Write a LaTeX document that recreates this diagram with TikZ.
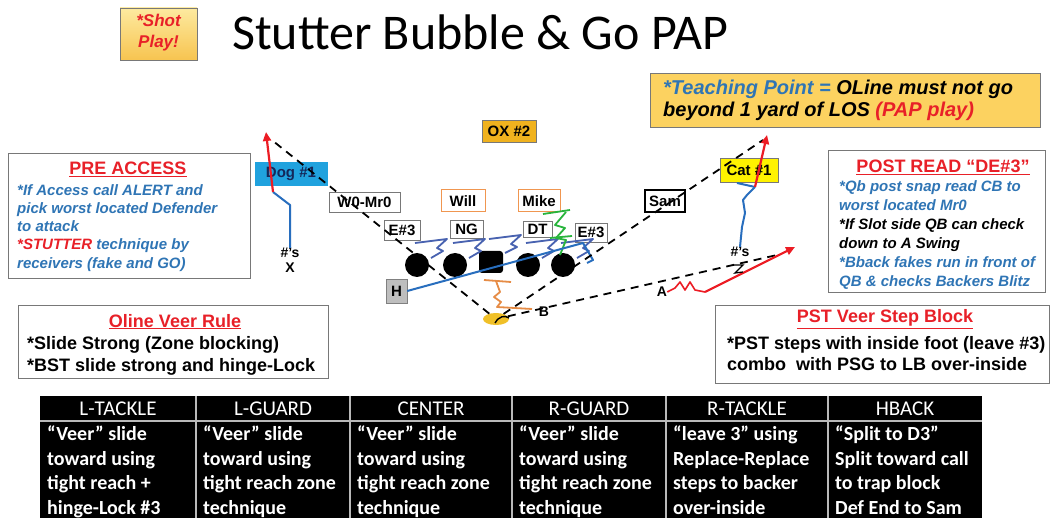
\documentclass[tikz,border=0pt]{standalone}
\usepackage{fontspec}
\setmainfont{Liberation Sans}
\newfontfamily\calfont{Carlito}
\usetikzlibrary{arrows.meta,shapes.geometric}
\definecolor{txtblue}{RGB}{47,117,181}
\definecolor{txtred}{RGB}{232,32,40}
\definecolor{tpgold}{RGB}{252,210,96}
\definecolor{shottop}{RGB}{253,234,160}
\definecolor{shotbot}{RGB}{247,196,80}
\definecolor{oxgold}{RGB}{240,178,30}
\definecolor{dogblue}{RGB}{32,162,222}
\definecolor{dognavy}{RGB}{20,40,90}
\definecolor{boxgray}{RGB}{120,120,120}
\definecolor{lbor}{RGB}{240,150,80}
\definecolor{routeblue}{RGB}{40,110,190}
\definecolor{blockblue}{RGB}{72,98,176}
\definecolor{mikegreen}{RGB}{40,180,60}
\definecolor{bback}{RGB}{230,140,70}
\definecolor{routered}{RGB}{236,28,36}
\definecolor{qbgold}{RGB}{240,192,40}
\definecolor{hgray}{RGB}{190,190,190}
\tikzset{
  notebox/.style={draw=boxgray,line width=0.8pt,fill=white,inner sep=0pt,anchor=north west},
  notetitle/.style={font=\fontsize{18}{20}\selectfont\bfseries,text=txtred,inner sep=0pt,anchor=base},
  notetext/.style={font=\fontsize{15}{18.3}\selectfont\bfseries\itshape,align=left,inner sep=0pt,anchor=north west},
  veertext/.style={font=\fontsize{18}{22.5}\selectfont\bfseries,align=left,inner sep=0pt,anchor=north west},
  defbox/.style={draw=boxgray,fill=white,font=\fontsize{15}{16}\selectfont\bfseries,inner sep=0pt},
  lbbox/.style={defbox,draw=lbor,line width=1pt},
  olman/.style={circle,fill=black,minimum size=24pt,inner sep=0pt},
  fieldlbl/.style={font=\fontsize{14}{15}\selectfont\bfseries,inner sep=0pt},
  readline/.style={black,dash pattern=on 8pt off 6pt,line width=1.8pt},
  blockline/.style={blockblue,line width=1.8pt,line join=round},
  xroute/.style={routeblue,line width=2pt,line join=round},
  goroute/.style={routered,line width=2.2pt,-{Triangle[length=9pt,width=8pt]}},
  tblhead/.style={font=\calfont\fontsize{21}{24}\selectfont,text=white,inner sep=0pt,anchor=base},
  tblcell/.style={font=\calfont\fontsize{20}{24.7}\selectfont\bfseries,text=white,align=left,anchor=north west,inner sep=0pt},
}
\begin{document}
\begin{tikzpicture}[x=1pt,y=-1pt]
\useasboundingbox (0,0) rectangle (1051,518);
\fill[white] (0,0) rectangle (1051,518);

\node[draw=boxgray,top color=shottop,bottom color=shotbot,minimum width=77pt,minimum height=52pt,inner sep=0pt] (shot) at (158.5,34) {};
\node[font=\fontsize{17}{21}\selectfont\bfseries\itshape,text=txtred,align=center] (shottxt) at (158.5,33) {*Shot\\Play!};
\node[font=\calfont\fontsize{50}{60}\selectfont,inner sep=0pt,anchor=base west] (title) at (232,50) {Stutter Bubble \& Go PAP};

\node[draw=boxgray,fill=tpgold,minimum width=390pt,minimum height=54pt,inner sep=0pt,anchor=north west] (teach) at (650,73) {};
\node[font=\fontsize{20}{22}\selectfont\bfseries\itshape,align=left,inner sep=0pt,anchor=north west] (teachtxt) at (663,80) {\textcolor{txtblue}{*Teaching Point =} OLine must not go\\beyond 1 yard of LOS \textcolor{txtred}{(PAP play)}};

\node[notebox,minimum width=242pt,minimum height=125pt] (prebox) at (8,153) {};
\node[notetitle] (pretitle) at (128,175) {\underline{PRE ACCESS}};
\node[notetext,text=txtblue] (pretxt) at (17,184) {*If Access call ALERT and\\pick worst located Defender\\to attack\\\textcolor{txtred}{*STUTTER} technique by\\receivers (fake and GO)};

\node[notebox,minimum width=217pt,minimum height=142pt] (postbox) at (828,150) {};
\node[notetitle] (posttitle) at (943,173) {\underline{POST READ “DE\#3”}};
\node[notetext,text=txtblue,font=\fontsize{15}{19}\selectfont\bfseries\itshape] (posttxt) at (839,180) {*Qb post snap read CB to\\worst located Mr0\\\textcolor{black}{*If Slot side QB can check}\\\textcolor{black}{down to A Swing}\\*Bback fakes run in front of\\QB \& checks Backers Blitz};

\node[notebox,minimum width=310pt,minimum height=73pt] (olbox) at (18,305) {};
\node[notetitle] (oltitle) at (175,327) {\underline{Oline Veer Rule}};
\node[veertext] (oltxt) at (27,336) {*Slide Strong (Zone blocking)\\*BST slide strong and hinge-Lock};

\node[notebox,minimum width=334pt,minimum height=78pt] (pstbox) at (715,305) {};
\node[notetitle] (psttitle) at (885,323) {\underline{PST Veer Step Block}};
\node[veertext,font=\fontsize{18}{21.5}\selectfont\bfseries] (psttxt) at (727,336) {*PST steps with inside foot (leave \#3)\\combo~ with PSG to LB over-inside};

\node[defbox,fill=oxgold,minimum width=54pt,minimum height=22pt] (ox) at (509,131) {OX \#2};
\node[defbox,fill=dogblue,text=dognavy,draw=dogblue,minimum width=72pt,minimum height=23pt] (dog) at (291,173.5) {Dog \#1};
\node[defbox,minimum width=71pt,minimum height=20pt] (wmr) at (364.5,202) {W0-Mr0};
\node[lbbox,minimum width=44pt,minimum height=22pt] (will) at (463,201) {Will};
\node[lbbox,minimum width=42pt,minimum height=22pt] (mike) at (539,201) {Mike};
\node[defbox,minimum width=36pt,minimum height=20pt] (eleft) at (402,230) {E\#3};
\node[defbox,minimum width=33pt,minimum height=18pt] (ng) at (466.5,229) {NG};
\node[defbox,minimum width=29pt,minimum height=16pt] (dt) at (537.5,229.5) {DT};
\node[defbox,minimum width=32pt,minimum height=19pt] (eright) at (591,232.5) {E\#3};
\node[defbox,draw=black,line width=1.5pt,minimum width=40pt,minimum height=22pt] (sam) at (665,201) {Sam};
\node[defbox,fill=yellow,minimum width=58pt,minimum height=24pt] (cat) at (749,170) {Cat \#1};

\node[olman] (lt) at (417,265) {};
\node[olman] (lg) at (455,265) {};
\node[fill=black,rounded corners=3pt,minimum width=24pt,minimum height=22pt,inner sep=0pt] (ctr) at (491,262) {};
\node[olman] (rg) at (528,265) {};
\node[olman] (rt) at (563,265) {};
\node[defbox,fill=hgray,draw=gray,minimum width=21pt,minimum height=24pt] (hback) at (396.5,291) {H};
\node[ellipse,fill=qbgold,minimum width=26pt,minimum height=12pt,inner sep=0pt] (qb) at (496,319) {};

\node[fieldlbl] (xhash) at (290,253) {\#'s};
\node[fieldlbl] (xlbl) at (290,268) {X};
\node[fieldlbl] (chash) at (740,252) {\#'s};
\node[fieldlbl] (alb) at (662,292) {A};
\node[fieldlbl] (blb) at (544,312) {B};

\coordinate (xbend) at (290,205);
\coordinate (xbreak) at (273,192);
\coordinate (xtip) at (266,132);
\coordinate (dogread) at (273,141);
\coordinate (catread) at (763,140);
\coordinate (aend) at (777,255);
\coordinate (catbreak) at (755,187);
\coordinate (cattip) at (767,135);
\coordinate (swingbreak) at (705,292);
\coordinate (swingtip) at (795,247);

\draw[blockline] (415,243) -- (447,239) -- (437,248) -- (443,251) -- (431,258);
\draw[blockline] (453,243) -- (485,239) -- (475,248) -- (481,251) -- (469,258);
\draw[blockline] (489,239) -- (521,235) -- (511,244) -- (517,247) -- (505,253);
\draw[blockline] (526,243) -- (558,239) -- (548,248) -- (554,251) -- (542,258);
\draw[blockline] (561,243) -- (593,239) -- (583,248) -- (589,251) -- (577,258);
\draw[mikegreen,line width=1.8pt,line join=round] (543,214) -- (570,210);
\draw[mikegreen,line width=1.8pt,line join=round] (566,212) -- (555,225) -- (565,228) -- (556,238) -- (566,240) -- (560,255);
\draw[mikegreen,line width=1.8pt] (550,238) -- (572,236);
\draw[bback,line width=1.8pt] (484,280) -- (511,282);
\draw[bback,line width=1.8pt,line join=round] (496,281) -- (500,292) -- (494,297) -- (501,302) -- (497,307) -- (532,309);
\draw[xroute] (hback.east) -- (583,243) -- (593,260) -- (587,263);

\draw[readline] (qb) -- (dogread);
\draw[readline] (qb) -- (catread);
\draw[readline] (qb) -- (aend);
\draw[black,line width=1.4pt] (495,323) .. controls (499,316) and (505,315) .. (509,318);

\draw[xroute] (xhash.north) -- (xbend) -- (xbreak);
\draw[goroute] (xbreak) -- (xtip);
\draw[xroute] (chash.north) -- (742,227) -- (745,213) -- (743,200) -- (747,195) -- (catbreak);
\draw[xroute] (737,183) -- (catbreak);
\draw[goroute] (catbreak) -- (cattip);
\draw[routered,line width=1.6pt,line join=round] (alb.east) -- (675,288) -- (680,282) -- (685,290) -- (690,282) -- (695,290) -- (swingbreak);
\draw[goroute] (swingbreak) -- (swingtip);
\draw[black,line width=1.3pt] (734,265) -- (743,265) -- (735,273) -- (743,272);

\fill[black] (40,396) rectangle (982,530);
\draw[gray!55,line width=1.5pt] (40,421) -- (982,421);
\draw[gray!55,line width=1.5pt] (196,396) -- (196,530) (350,396) -- (350,530) (512,396) -- (512,530) (666,396) -- (666,530) (828,396) -- (828,530);
\node[tblhead] (hlt) at (118,415) {L-TACKLE};
\node[tblhead] (hlg) at (273,415) {L-GUARD};
\node[tblhead] (hc) at (431,415) {CENTER};
\node[tblhead] (hrg) at (589,415) {R-GUARD};
\node[tblhead] (hrt) at (747,415) {R-TACKLE};
\node[tblhead] (hhb) at (905,415) {HBACK};
\node[tblcell] (clt) at (47,425.5) {“Veer” slide\\toward using\\tight reach +\\hinge-Lock \#3};
\node[tblcell] (clg) at (203,425.5) {“Veer” slide\\toward using\\tight reach zone\\technique};
\node[tblcell] (cc) at (357,425.5) {“Veer” slide\\toward using\\tight reach zone\\technique};
\node[tblcell] (crg) at (519,425.5) {“Veer” slide\\toward using\\tight reach zone\\technique};
\node[tblcell] (crt) at (673,425.5) {“leave 3” using\\Replace-Replace\\steps to backer\\over-inside};
\node[tblcell] (chb) at (835,425.5) {“Split to D3”\\Split toward call\\to trap block\\Def End to Sam};
\end{tikzpicture}
\end{document}
